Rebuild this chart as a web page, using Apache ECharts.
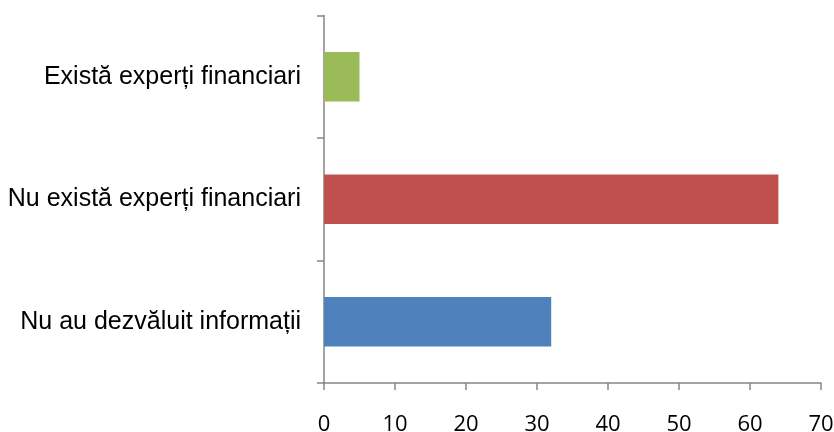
<!DOCTYPE html>
<html>
<head>
<meta charset="utf-8">
<script src="https://cdn.jsdelivr.net/npm/echarts@6/dist/echarts.min.js"></script>
<style>
  html, body { margin: 0; padding: 0; background: #fff; }
  #chart { width: 834px; height: 432px; }
</style>
</head>
<body>
<div id="chart"></div>
<script>
// Categories listed bottom-to-top as drawn on the vertical axis
const categories = [
  'Nu au dezvăluit informații',
  'Nu există experți financiari',
  'Există experți financiari'
];
const values = [32, 64, 5];
const barColors = ['#4F81BD', '#C0504D', '#9BBB59'];
const xTicks = { min: 0, max: 70, interval: 10 };

const axisGray = '#868686';

const chart = echarts.init(document.getElementById('chart'), null, { renderer: 'canvas' });
chart.setOption({
  animation: false,
  grid: {
    left: 324, right: 13, top: 15.5, bottom: 49,
    containLabel: false,
    outerBoundsMode: 'none'
  },
  xAxis: {
    type: 'value',
    min: xTicks.min,
    max: xTicks.max,
    interval: xTicks.interval,
    splitLine: { show: false },
    axisLine: { show: true, lineStyle: { color: axisGray, width: 1.5 } },
    axisTick: { show: true, length: 7, lineStyle: { color: axisGray, width: 1.5 } },
    axisLabel: {
      margin: 31,
      color: '#000',
      fontFamily: 'Open Sans',
      fontSize: 22
    }
  },
  yAxis: {
    type: 'category',
    data: categories,
    axisLine: { show: true, lineStyle: { color: axisGray, width: 1.5 } },
    axisTick: { show: true, length: 7, alignWithLabel: false, lineStyle: { color: axisGray, width: 1.5 } },
    axisLabel: {
      margin: 23,
      color: '#000',
      fontFamily: 'Liberation Sans',
      fontSize: 25
    }
  },
  series: [{
    type: 'bar',
    barCategoryGap: '59.6%',
    data: values.map((v, i) => ({ value: v, itemStyle: { color: barColors[i] } }))
  }]
});
</script>
</body>
</html>
